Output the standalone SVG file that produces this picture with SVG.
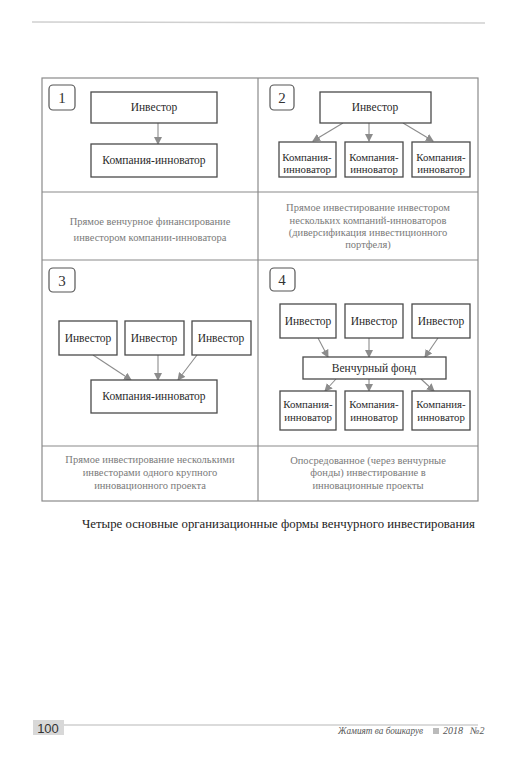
<svg xmlns="http://www.w3.org/2000/svg" width="516" height="758" viewBox="0 0 516 758">
<style>
.frame{fill:none;stroke:#8a8a8a;stroke-width:1.2}
.box{fill:#fff;stroke:#4a4a4a;stroke-width:1.3}
.num{fill:#fff;stroke:#555;stroke-width:1.2}
.t{font-size:11.5px;fill:#2a2a2a;text-anchor:middle}
.s{font-size:10.8px;fill:#2a2a2a;text-anchor:middle}
.n{font-size:15px;fill:#333;text-anchor:middle}
.c{font-size:10.5px;fill:#7a7a7a;text-anchor:middle}
.arr{stroke:#8c8c8c;stroke-width:1.1;fill:none;marker-end:url(#ah)}
</style>
<defs>
<marker id="ah" markerWidth="8" markerHeight="8" refX="7" refY="4" orient="auto" markerUnits="userSpaceOnUse">
<path d="M0,0 L8,4 L0,8 Z" fill="#8c8c8c"/>
</marker>
</defs>
<rect width="516" height="758" fill="#fff"/>
<line x1="32" y1="22" x2="485" y2="23" stroke="#d0d0d0" stroke-width="1.5"/>
<g id="table">
<rect class="frame" x="42" y="78" width="436" height="423"/>
<line class="frame" x1="258" y1="78" x2="258" y2="501"/>
<line class="frame" x1="42" y1="260" x2="478" y2="260"/>
<line class="frame" x1="42" y1="192" x2="478" y2="192"/>
<line class="frame" x1="42" y1="446" x2="478" y2="446"/>
</g>
<g id="connectors">
<line class="arr" x1="158" y1="123" x2="158" y2="144"/>
<line class="arr" x1="343" y1="123" x2="313" y2="141"/>
<line class="arr" x1="369" y1="123" x2="369" y2="141"/>
<line class="arr" x1="403" y1="123" x2="433" y2="141"/>
<line class="arr" x1="93" y1="355" x2="131" y2="380"/>
<line class="arr" x1="158" y1="355" x2="158" y2="380"/>
<line class="arr" x1="197" y1="355" x2="178" y2="380"/>
<line class="arr" x1="318" y1="338" x2="328" y2="357"/>
<line class="arr" x1="369" y1="338" x2="369" y2="357"/>
<line class="arr" x1="438" y1="338" x2="425" y2="357"/>
<line class="arr" x1="336" y1="379" x2="325" y2="391"/>
<line class="arr" x1="369" y1="379" x2="369" y2="391"/>
<line class="arr" x1="421" y1="379" x2="434" y2="391"/>
</g>
<g font-family="Liberation Serif, DejaVu Serif, serif">
<g id="p1">
<rect class="num" x="49" y="85" width="26" height="25" rx="4"/>
<text class="n" x="62" y="103">1</text>
<g id="p1-inv"><rect class="box" x="91" y="92" width="126" height="31"/><text class="t" x="154" y="111">Инвестор</text></g>
<g id="p1-comp"><rect class="box" x="91" y="144" width="126" height="33"/><text class="t" x="154" y="164">Компания-инноватор</text></g>
<text class="c" x="150" y="225">Прямое венчурное финансирование</text>
<text class="c" x="150" y="241">инвестором компании-инноватора</text>
</g>
<g id="p2">
<rect class="num" x="270" y="85" width="24" height="25" rx="4"/>
<text class="n" x="282" y="103">2</text>
<g id="p2-inv"><rect class="box" x="320" y="92" width="111" height="31"/><text class="t" x="375" y="111">Инвестор</text></g>
<g id="p2-c1"><rect class="box" x="279" y="142" width="57" height="35"/><text class="s" x="307" y="161">Компания-</text><text class="s" x="307" y="173">инноватор</text></g>
<g id="p2-c2"><rect class="box" x="345" y="142" width="58" height="35"/><text class="s" x="374" y="161">Компания-</text><text class="s" x="374" y="173">инноватор</text></g>
<g id="p2-c3"><rect class="box" x="412" y="142" width="58" height="35"/><text class="s" x="441" y="161">Компания-</text><text class="s" x="441" y="173">инноватор</text></g>
<text class="c" x="368" y="211">Прямое инвестирование инвестором</text>
<text class="c" x="368" y="224">нескольких компаний-инноваторов</text>
<text class="c" x="368" y="236">(диверсификация инвестиционного</text>
<text class="c" x="368" y="248">портфеля)</text>
</g>
<g id="p3">
<rect class="num" x="49" y="268" width="26" height="24" rx="4"/>
<text class="n" x="62" y="286">3</text>
<g id="p3-i1"><rect class="box" x="59" y="321" width="58" height="34"/><text class="t" x="88" y="342">Инвестор</text></g>
<g id="p3-i2"><rect class="box" x="125" y="321" width="59" height="34"/><text class="t" x="154" y="342">Инвестор</text></g>
<g id="p3-i3"><rect class="box" x="192" y="321" width="59" height="34"/><text class="t" x="221" y="342">Инвестор</text></g>
<g id="p3-comp"><rect class="box" x="91" y="380" width="126" height="33"/><text class="t" x="154" y="400">Компания-инноватор</text></g>
<text class="c" x="150" y="463">Прямое инвестирование несколькими</text>
<text class="c" x="150" y="476">инвесторами одного крупного</text>
<text class="c" x="150" y="489">инновационного проекта</text>
</g>
<g id="p4">
<rect class="num" x="270" y="268" width="25" height="23" rx="4"/>
<text class="n" x="282" y="285">4</text>
<g id="p4-i1"><rect class="box" x="280" y="304" width="56" height="34"/><text class="t" x="308" y="325">Инвестор</text></g>
<g id="p4-i2"><rect class="box" x="345" y="304" width="58" height="34"/><text class="t" x="374" y="325">Инвестор</text></g>
<g id="p4-i3"><rect class="box" x="412" y="304" width="58" height="34"/><text class="t" x="441" y="325">Инвестор</text></g>
<g id="p4-fund"><rect class="box" x="303" y="357" width="143" height="22"/><text class="t" x="374" y="372">Венчурный фонд</text></g>
<g id="p4-c1"><rect class="box" x="280" y="391" width="56" height="39"/><text class="s" x="308" y="408">Компания-</text><text class="s" x="308" y="421">инноватор</text></g>
<g id="p4-c2"><rect class="box" x="345" y="391" width="58" height="39"/><text class="s" x="374" y="408">Компания-</text><text class="s" x="374" y="421">инноватор</text></g>
<g id="p4-c3"><rect class="box" x="412" y="391" width="58" height="39"/><text class="s" x="441" y="408">Компания-</text><text class="s" x="441" y="421">инноватор</text></g>
<text class="c" x="368" y="464">Опосредованное (через венчурные</text>
<text class="c" x="368" y="476">фонды) инвестирование в</text>
<text class="c" x="368" y="489">инновационные проекты</text>
</g>
<text x="82" y="528" font-size="13.5" fill="#222" textLength="393" lengthAdjust="spacingAndGlyphs">Четыре основные организационные формы венчурного инвестирования</text>
</g>
<g id="footer">
<rect x="33" y="720" width="31" height="15" fill="#d8d8d8"/>
<text x="48" y="733" font-family="Liberation Sans, Arial, sans-serif" font-size="13" fill="#333" text-anchor="middle">100</text>
<line x1="64" y1="725" x2="478" y2="725" stroke="#cfcfcf" stroke-width="1.5"/>
<text x="338" y="734" font-family="Liberation Serif, DejaVu Serif, serif" font-size="10" font-style="italic" fill="#555" textLength="85" lengthAdjust="spacingAndGlyphs">Жамият ва бошкарув</text>
<rect x="433" y="728" width="6" height="6" fill="#bbb"/>
<text x="443" y="734" font-family="Liberation Serif, DejaVu Serif, serif" font-size="10" font-style="italic" fill="#555">2018</text>
<text x="470" y="734" font-family="Liberation Serif, DejaVu Serif, serif" font-size="10" font-style="italic" fill="#555">№2</text>
</g>
</svg>
